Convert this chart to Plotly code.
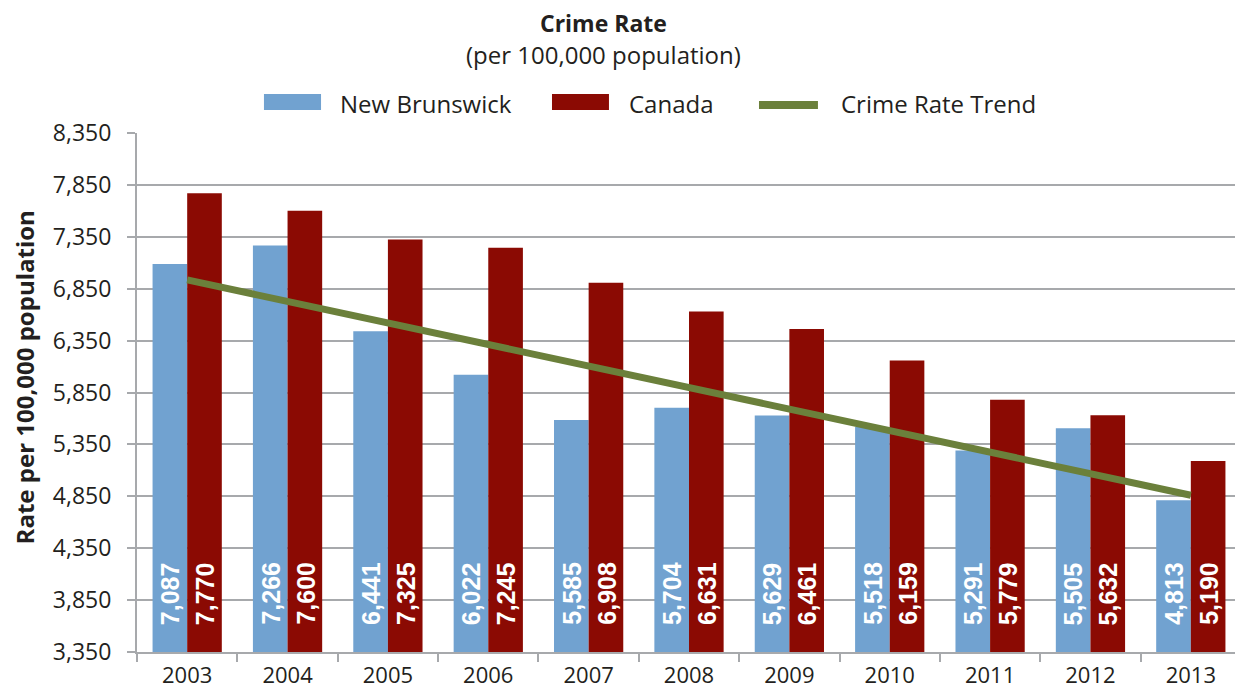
"""Crime rate per 100,000 population: New Brunswick vs Canada, 2003-2013."""

import plotly.graph_objects as go

YEARS = ["2003", "2004", "2005", "2006", "2007", "2008", "2009", "2010", "2011", "2012", "2013"]
NEW_BRUNSWICK = [7087, 7266, 6441, 6022, 5585, 5704, 5629, 5518, 5291, 5505, 4813]
CANADA = [7770, 7600, 7325, 7245, 6908, 6631, 6461, 6159, 5779, 5632, 5190]
TREND_YEARS = ["2003", "2013"]
TREND_VALUES = [6935, 4860]
Y_TICKS = [3350, 3850, 4350, 4850, 5350, 5850, 6350, 6850, 7350, 7850, 8350]

BLUE = "#71A2D0"
RED = "#8B0A03"
GREEN = "#6B803B"
GRID = "#A7A9AC"
INK = "#231F20"
FONT = "Open Sans"

fig = go.Figure()
fig.add_bar(x=YEARS, y=NEW_BRUNSWICK, name="New Brunswick", marker={"color": BLUE, "line": {"width": 0}})
fig.add_bar(x=YEARS, y=CANADA, name="Canada", marker={"color": RED, "line": {"width": 0}})
fig.add_scatter(x=TREND_YEARS, y=TREND_VALUES, mode="lines", name="Crime Rate Trend",
                line={"color": GREEN, "width": 7})

# vertical value labels near the bottom of each bar (x given as category index)
annotations = []
for shift, series in ((-17.5, NEW_BRUNSWICK), (17.5, CANADA)):
    for i, value in enumerate(series):
        annotations.append({
            "x": i, "y": Y_TICKS[0], "xref": "x", "yref": "y",
            "text": f"<b>{value:,}</b>", "textangle": -90, "showarrow": False,
            "xanchor": "center", "yanchor": "bottom", "xshift": shift, "yshift": 25,
            "font": {"family": "Liberation Sans", "size": 25, "color": "white"},
        })

# title, subtitle and y-axis title
tight = {"borderpad": 0, "borderwidth": 0, "showarrow": False, "xref": "paper", "yref": "paper"}
annotations.append({"text": "<b>Crime Rate</b>", "x": 0.423, "y": 1.2119, "yanchor": "middle",
                    "font": {"family": FONT, "size": 23, "color": INK}, **tight})
annotations.append({"text": "(per 100,000 population)", "x": 0.423, "y": 1.1503, "yanchor": "middle",
                    "font": {"family": FONT, "size": 24, "color": INK}, **tight})
annotations.append({"text": "<b>Rate per 100,000 population</b>", "x": -0.1024, "y": 0.529,
                    "xanchor": "center", "yanchor": "middle", "textangle": -90,
                    "font": {"family": FONT, "size": 24, "color": INK}, **tight})

# hand-laid legend row
shapes = []
legend_items = [
    ("New Brunswick", BLUE, "rect", 0.115, 0.1667, 0.182),
    ("Canada", RED, "rect", 0.3759, 0.4275, 0.4438),
    ("Crime Rate Trend", GREEN, "line", 0.5634, 0.6168, 0.6359),
]
for label, color, kind, x0, x1, tx in legend_items:
    if kind == "rect":
        shapes.append({"type": "rect", "xref": "paper", "yref": "paper", "x0": x0, "x1": x1,
                       "y0": 1.0443, "y1": 1.0751, "fillcolor": color, "line": {"width": 0}})
    else:
        shapes.append({"type": "line", "xref": "paper", "yref": "paper", "x0": x0, "x1": x1,
                       "y0": 1.054, "y1": 1.054, "line": {"color": color, "width": 8}})
    annotations.append({"text": label, "x": tx, "y": 1.0578, "xref": "paper", "yref": "paper",
                        "xanchor": "left", "yanchor": "middle", "showarrow": False,
                        "font": {"family": FONT, "size": 24, "color": INK}})

# the page body adds an 8px margin, so the figure is 8px smaller and margins are offset
fig.update_layout(
    width=1235,
    height=684,
    margin={"l": 129, "r": 2, "t": 125, "b": 40},
    paper_bgcolor="white",
    plot_bgcolor="white",
    barmode="group",
    bargap=0.31,
    bargroupgap=0,
    showlegend=False,
    font={"family": FONT, "size": 23, "color": INK},
    annotations=annotations,
    shapes=shapes,
)
fig.update_xaxes(
    type="category",
    range=[-0.5, len(YEARS) - 0.5],
    automargin=False,
    showgrid=False,
    showline=True, linecolor=GRID, linewidth=2,
    ticks="outside", tickson="boundaries", ticklen=8, tickwidth=2, tickcolor=GRID,
    ticklabelstandoff=3,
    tickfont={"family": FONT, "size": 22, "color": INK},
)
fig.update_yaxes(
    range=[Y_TICKS[0], Y_TICKS[-1]],
    tickvals=Y_TICKS,
    tickformat=",",
    automargin=False,
    showgrid=True, gridcolor=GRID, gridwidth=2,
    zeroline=False,
    showline=True, linecolor=GRID, linewidth=2,
    ticks="outside", ticklen=8, tickwidth=2, tickcolor=GRID,
    ticklabelstandoff=11,
    tickfont={"family": FONT, "size": 23, "color": INK},
)

fig.write_html("out.html")
